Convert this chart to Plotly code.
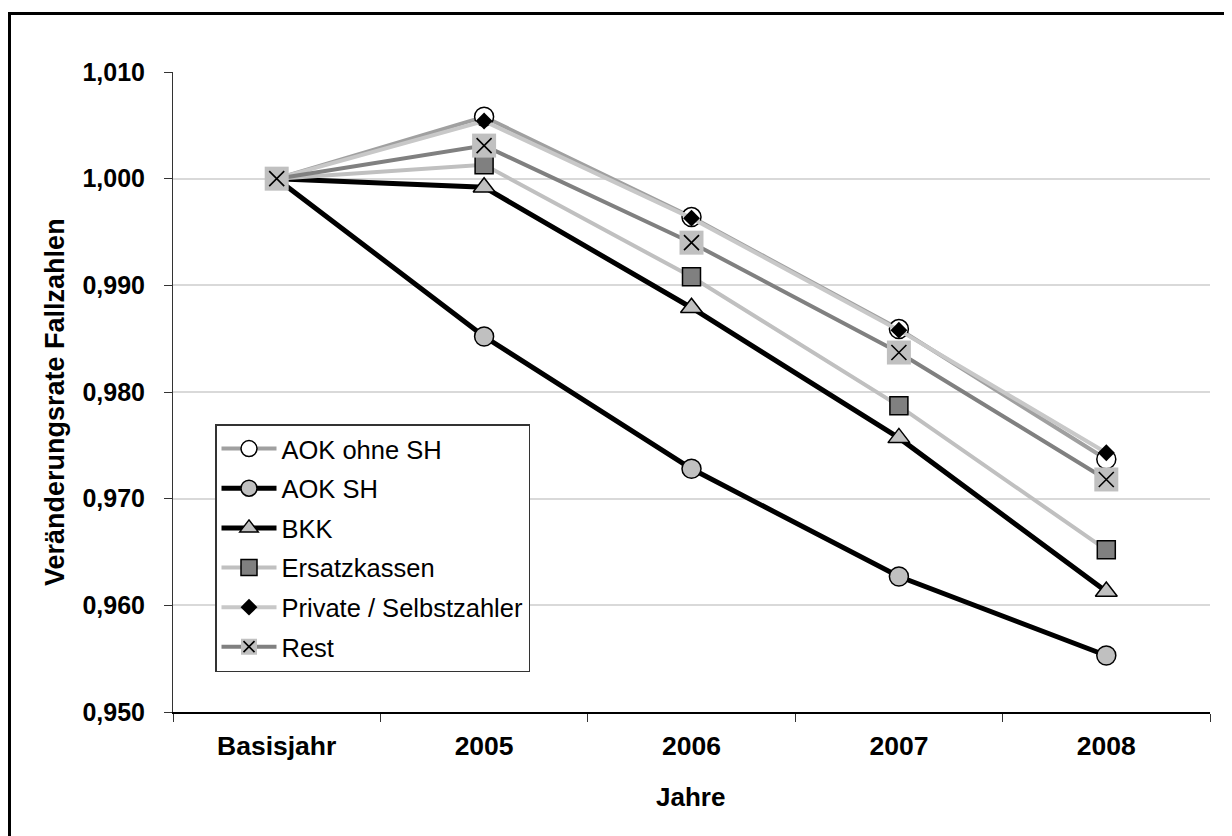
import plotly.graph_objects as go

categories = ["Basisjahr", "2005", "2006", "2007", "2008"]
aok_ohne_sh = [1.000, 1.0058, 0.9964, 0.9859, 0.9737]
aok_sh = [1.000, 0.9852, 0.9728, 0.9627, 0.9553]
bkk = [1.000, 0.9992, 0.9879, 0.9757, 0.9613]
ersatzkassen = [1.000, 1.0013, 0.9908, 0.9787, 0.9652]
private = [1.000, 1.0054, 0.9963, 0.9858, 0.9743]
rest = [1.000, 1.0031, 0.9940, 0.9837, 0.9718]
y_ticks = [0.950, 0.960, 0.970, 0.980, 0.990, 1.000, 1.010]
y_tick_labels = ["0,950", "0,960", "0,970", "0,980", "0,990", "1,000", "1,010"]

FONT = "Liberation Sans"
fig = go.Figure()

def add(name, vals, lcolor, lwidth, symbol, size, fill, mline=1.5, mlcolor="black"):
    fig.add_trace(go.Scatter(
        x=categories, y=vals, name=name, mode="lines+markers",
        line=dict(color=lcolor, width=lwidth),
        marker=dict(symbol=symbol, size=size, color=fill,
                    line=dict(color=mlcolor, width=mline)),
        legend="legend", legendgroup=name,
    ))

add("AOK ohne SH", aok_ohne_sh, "#a0a0a0", 4, "circle", 19, "white")
add("AOK SH", aok_sh, "black", 5, "circle", 19, "#c0c0c0")
add("BKK", bkk, "black", 5, "triangle-up", 19, "#c0c0c0")
add("Ersatzkassen", ersatzkassen, "#c0c0c0", 4, "square", 18, "#808080")
add("Private / Selbstzahler", private, "#c8c8c8", 4, "diamond", 13, "black", 0)
add("Rest", rest, "#808080", 4, "square", 24, "#c0c0c0", 0, "#c0c0c0")

# X overlay for "Rest" markers in plot
fig.add_trace(go.Scatter(
    x=categories, y=rest, mode="markers", showlegend=False, hoverinfo="skip",
    marker=dict(symbol="x-thin", size=15, line=dict(color="black", width=1.6)),
))
# X overlay in legend (second legend placed over the "Rest" row)
fig.add_trace(go.Scatter(
    x=[categories[0]], y=[None], mode="markers", name=" ", legend="legend2",
    marker=dict(symbol="x-thin", size=11, line=dict(color="black", width=1.6)),
))

# The page body has an 8px margin: figure coords = page coords - 8
OFF = 8
PL, PT, PR, PB = 173, 72, 1210, 712   # plot area in page pixels
W, H = 1232 - OFF, 836 - OFF
L, T = PL - OFF, PT - OFF
R, B = W - (PR - OFF), H - (PB - OFF)
pw, ph = PR - PL, PB - PT

def px_x(p):
    return (p - PL) / pw

def px_y(p):
    return (PB - p) / ph

legend_common = dict(
    x=px_x(215), xanchor="left", y=px_y(672), yanchor="bottom",
    font=dict(family=FONT, size=25.5, color="black"),
    borderwidth=1.5, itemwidth=55, tracegroupgap=3.5,
)
fig.update_layout(
    width=W, height=H,
    margin=dict(l=L, r=R, t=T, b=B, autoexpand=False),
    paper_bgcolor="white", plot_bgcolor="white",
    font=dict(family=FONT, size=24, color="black"),
    legend=dict(**legend_common, bgcolor="white", bordercolor="#333333"),
    legend2=dict(**legend_common, bgcolor="rgba(0,0,0,0)", bordercolor="rgba(0,0,0,0)"),
    xaxis=dict(
        type="category", range=[-0.5, 4.5],
        showgrid=False, showline=True, linecolor="black", linewidth=1.5,
        ticks="outside", tickson="boundaries", ticklen=8, tickcolor="#333333",
        tickfont=dict(family=FONT, size=26.5, color="black", weight="bold"),
        ticklabelstandoff=9,
    ),
    yaxis=dict(
        range=[0.950, 1.010], tickvals=y_ticks, ticktext=y_tick_labels,
        showgrid=True, gridcolor="#d9d9d9", gridwidth=1.5,
        showline=True, linecolor="#333333", linewidth=1,
        ticks="outside", ticklen=8, tickcolor="#333333",
        tickfont=dict(family=FONT, size=25, color="black", weight="bold"),
        ticklabelstandoff=14, zeroline=False,
    ),
    annotations=[
        dict(text="Veränderungsrate Fallzahlen", textangle=-90,
             x=px_x(55), y=px_y(402), xref="paper", yref="paper",
             xanchor="center", yanchor="middle",
             showarrow=False, font=dict(family=FONT, size=27, weight="bold")),
        dict(text="Jahre", x=px_x(690), y=px_y(797), xref="paper", yref="paper",
             xanchor="center", yanchor="middle",
             showarrow=False, font=dict(family=FONT, size=26, weight="bold")),
    ],
    shapes=[
        dict(type="rect", xref="paper", yref="paper",
             x0=px_x(9.5), x1=px_x(1250), y0=px_y(13.5), y1=px_y(860),
             line=dict(color="black", width=3), layer="below"),
    ],
)

fig.write_html("out.html")
